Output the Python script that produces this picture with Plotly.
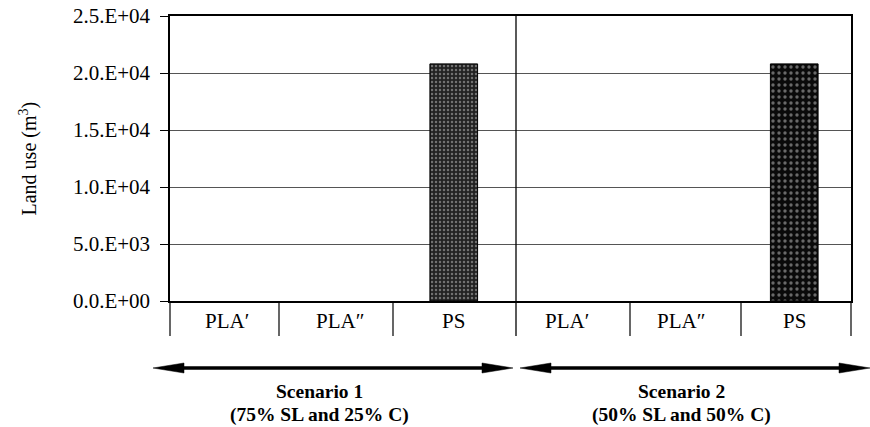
import plotly.graph_objects as go

# ---- data ----
categories = ["PLA\u2032", "PLA\u2033", "PS", "PLA\u2032", "PLA\u2033", "PS"]
scenario1_values = [0, 0, 20800]
scenario2_values = [0, 0, 20800]
y_tickvals = [0, 5000, 10000, 15000, 20000, 25000]
y_ticktext = ["0.0.E+00", "5.0.E+03", "1.0.E+04", "1.5.E+04", "2.0.E+04", "2.5.E+04"]
scenario_titles = ["Scenario 1", "Scenario 2"]
scenario_subtitles = ["(75% SL and 25% C)", "(50% SL and 50% C)"]

W, H = 870, 427
L, R, T, B = 170, 851, 16, 301
FONT = "Liberation Serif, Times New Roman, serif"

def px_x(px):
    return (px - L) / (R - L)

def px_y(py):
    return (B - py) / (B - T)

def outline(vals):
    return [1 if v > 0 else 0 for v in vals]

fig = go.Figure()
fig.add_trace(go.Bar(
    x=[0, 1, 2], y=scenario1_values, width=0.42,
    marker=dict(color="#222222", line=dict(color="black", width=outline(scenario1_values)),
                pattern=dict(shape=".", fgcolor="#c0c0c0", size=4, solidity=0.3, fillmode="overlay")),
    showlegend=False, hoverinfo="skip"))
fig.add_trace(go.Bar(
    x=[3, 4, 5], y=scenario2_values, width=0.42,
    marker=dict(color="#0a0a0a", line=dict(color="black", width=outline(scenario2_values)),
                pattern=dict(shape=".", fgcolor="#c8c8c8", size=6, solidity=0.25, fillmode="overlay")),
    showlegend=False, hoverinfo="skip"))

shapes = []
shapes.append(dict(type="line", xref="paper", yref="paper", x0=px_x(516), x1=px_x(516),
                   y0=px_y(16), y1=px_y(336), line=dict(color="black", width=1.3)))
for px in [170, 279, 393, 630, 741, 851]:
    shapes.append(dict(type="line", xref="paper", yref="paper", x0=px_x(px), x1=px_x(px),
                       y0=px_y(301), y1=px_y(336), line=dict(color="black", width=1.2)))

def arrow(x_left, x_right, y, head=31, half=5):
    out = []
    out.append(dict(type="line", xref="paper", yref="paper",
                    x0=px_x(x_left + head - 2), x1=px_x(x_right - head + 2),
                    y0=px_y(y), y1=px_y(y), line=dict(color="black", width=3.5)))
    p1 = f"M {px_x(x_left)} {px_y(y)} L {px_x(x_left + head)} {px_y(y - half)} L {px_x(x_left + head)} {px_y(y + half)} Z"
    p2 = f"M {px_x(x_right)} {px_y(y)} L {px_x(x_right - head)} {px_y(y - half)} L {px_x(x_right - head)} {px_y(y + half)} Z"
    for p in (p1, p2):
        out.append(dict(type="path", xref="paper", yref="paper", path=p,
                        fillcolor="black", line=dict(color="black", width=0.5)))
    return out

shapes += arrow(153, 513, 368)
shapes += arrow(520, 870, 368)

annotations = []
for i, c in enumerate(categories):
    annotations.append(dict(x=i, xref="x", y=px_y(321), yref="paper", text=c, showarrow=False,
                            font=dict(family=FONT, size=21, color="black"),
                            xanchor="center", yanchor="middle"))
for cx, t, s in zip([319, 681], scenario_titles, scenario_subtitles):
    annotations.append(dict(x=px_x(cx), xref="paper", y=px_y(403), yref="paper", text=f"<b>{t}</b>",
                            showarrow=False, font=dict(family=FONT, size=19.5, color="black"),
                            xanchor="center", yanchor="bottom", borderpad=0))
    annotations.append(dict(x=px_x(cx), xref="paper", y=px_y(403), yref="paper", text=f"<b>{s}</b>",
                            showarrow=False, font=dict(family=FONT, size=19.5, color="black"),
                            xanchor="center", yanchor="top", borderpad=0))
annotations.append(dict(x=px_x(28), xref="paper", y=0.5, yref="paper", text="Land use (m<sup>3</sup>)",
                        textangle=-90, showarrow=False, font=dict(family=FONT, size=20, color="black"),
                        xanchor="center", yanchor="middle"))

fig.update_layout(
    width=W, height=H,
    autosize=False,
    margin=dict(l=L, r=W - R, t=T, b=H - B, pad=0, autoexpand=False),
    paper_bgcolor="white", plot_bgcolor="white",
    barmode="overlay",
    shapes=shapes, annotations=annotations,
    xaxis=dict(range=[-0.5, 5.5], showticklabels=False, showgrid=False, zeroline=False,
               showline=True, mirror=True, linecolor="black", linewidth=1.5, ticks="",
               automargin=False),
    yaxis=dict(range=[0, 25000], tickvals=y_tickvals, ticktext=y_ticktext,
               showgrid=True, gridcolor="#555555", gridwidth=1.2, zeroline=False,
               showline=True, mirror=True, linecolor="black", linewidth=1.5,
               ticks="outside", ticklen=8, tickwidth=1.3, tickcolor="black",
               ticklabelstandoff=6, automargin=False,
               tickfont=dict(family=FONT, size=21, color="black")),
)
fig.write_html("out.html", config={"displayModeBar": False},
               post_script="document.body.style.margin='0px';document.body.style.padding='0px';")
